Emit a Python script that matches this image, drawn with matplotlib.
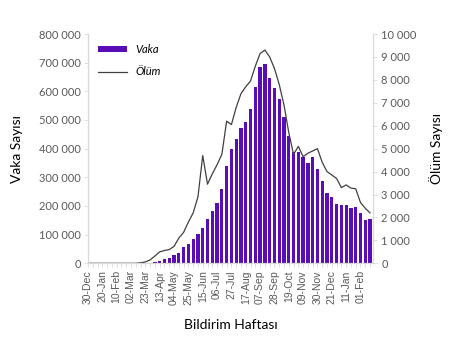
import numpy as np
import matplotlib
matplotlib.use("Agg")
import matplotlib.pyplot as plt
from matplotlib.ticker import FuncFormatter

plt.rcParams["font.family"] = ["Lato", "DejaVu Sans"]

# weekly data, week 0 = 30-Dec
week_labels = ["30-Dec", "20-Jan", "10-Feb", "02-Mar", "23-Mar", "13-Apr", "04-May",
               "25-May", "15-Jun", "06-Jul", "27-Jul", "17-Aug", "07-Sep", "28-Sep",
               "19-Oct", "09-Nov", "30-Nov", "21-Dec", "11-Jan", "01-Feb"]

# cases start at week 14
case_start = 14
cases = [5800, 9300, 14000, 17400, 29000, 37000, 56000, 67000, 84000, 103000,
         124000, 153000, 181000, 209000, 258000, 340000, 398000, 433000, 471000, 492000,
         537000, 614000, 684000, 694000, 645000, 612000, 573000, 510000, 444000, 390000,
         387000, 370000, 349000, 370000, 330000, 288000, 247000, 230000, 206000, 205000,
         202000, 192000, 198000, 176000, 151000, 156000]

deaths = [0, 0, 0, 0, 0, 0, 0, 0, 0, 0,
          0, 20, 60, 150, 320, 500, 560, 600, 740, 1100,
          1350, 1800, 2200, 2900, 4700, 3450, 3900, 4300, 4750, 6200,
          6050, 6800, 7400, 7700, 7950, 8600, 9150, 9300, 9000, 8500,
          7800, 6900, 5700, 4750, 5100, 4650, 4800, 4900, 5000, 4400,
          4000, 3850, 3700, 3300, 3420, 3280, 3250, 2650, 2400, 2200]

bar_color = "#5a0cb6"
gray = "#595959"
axis_gray = "#d9d9d9"

fig = plt.figure(figsize=(4.57, 3.58), dpi=100)
ax = fig.add_axes([0.1926, 0.2645, 0.6234, 0.6405])
ax2 = ax.twinx()

xc = np.arange(case_start, case_start + len(cases))
xd = np.arange(len(deaths))
bars = ax.bar(xc, cases, width=0.68, color=bar_color, label="Vaka", zorder=2)
line, = ax2.plot(xd, deaths, color="#404040", lw=0.9, label="Ölüm")

ax.set_xlim(0, 59.6)
ax.set_ylim(0, 800000)
ax2.set_ylim(0, 10000)
ax.set_yticks(np.arange(0, 800001, 100000))
ax2.set_yticks(np.arange(0, 10001, 1000))

fmt = FuncFormatter(lambda v, p: f"{int(v):,}".replace(",", " "))
ax.yaxis.set_major_formatter(fmt)
ax2.yaxis.set_major_formatter(fmt)

ax.set_xticks(np.arange(0, 58, 3))
ax.set_xticklabels(week_labels, rotation=90, family=["Liberation Sans", "DejaVu Sans"])
ax.set_xticks(np.arange(0, 60, 1), minor=True)

for a in (ax, ax2):
    for s in a.spines.values():
        s.set_color(axis_gray)
        s.set_linewidth(0.8)
    a.spines["top"].set_visible(False)
    a.tick_params(colors=gray, labelsize=8, length=3, width=0.6, color=axis_gray)
ax.tick_params(axis="x", which="both", length=3, color=axis_gray, pad=2, labelsize=7.5)
ax.tick_params(axis="y", pad=2)
ax2.tick_params(axis="y", pad=3)

ax.set_ylabel("Vaka Sayısı", fontsize=10, color="black", labelpad=12)
ax2.set_ylabel("Ölüm Sayısı", fontsize=10, color="black", rotation=90, labelpad=9)
ax.set_xlabel("Bildirim Haftası", fontsize=10, color="black", labelpad=10)

leg = ax.legend([bars, line], ["Vaka", "Ölüm"], loc="upper left",
                bbox_to_anchor=(0.0, 1.0), frameon=False, handlelength=2.6,
                handleheight=0.5, prop={"style": "italic", "size": 8}, labelspacing=1.0)

fig.savefig("out.png", dpi=100)
